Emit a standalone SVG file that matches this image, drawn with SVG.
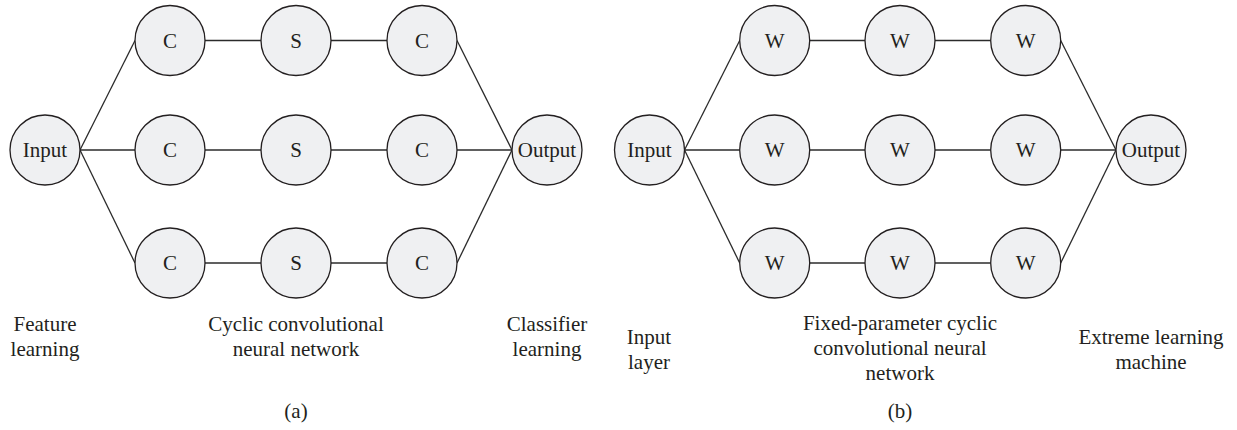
<svg xmlns="http://www.w3.org/2000/svg" width="1237" height="430" viewBox="0 0 1237 430">
  <style>
    .node circle { fill: #eff0f2; stroke: #231f20; stroke-width: 1.3; }
    .node text, .label { font-family: "Liberation Serif", "Times New Roman", serif; font-size: 21px; fill: #231f20; text-anchor: middle; }
    .node text { dominant-baseline: central; }
    .links line { stroke: #2b2b2b; stroke-width: 1.3; }
  </style>
  <rect width="1237" height="430" fill="#ffffff"/>

  <!-- (a) cyclic convolutional neural network -->
  <g class="links" id="links-a">
    <line x1="80" y1="150" x2="135" y2="40.5"/>
    <line x1="80" y1="150" x2="135" y2="150"/>
    <line x1="80" y1="150" x2="135" y2="263"/>
    <line x1="205" y1="40.5" x2="261" y2="40.5"/>
    <line x1="331" y1="40.5" x2="387" y2="40.5"/>
    <line x1="205" y1="150" x2="261" y2="150"/>
    <line x1="331" y1="150" x2="387" y2="150"/>
    <line x1="205" y1="263" x2="261" y2="263"/>
    <line x1="331" y1="263" x2="387" y2="263"/>
    <line x1="457" y1="40.5" x2="512" y2="150"/>
    <line x1="457" y1="150" x2="512" y2="150"/>
    <line x1="457" y1="263" x2="512" y2="150"/>
  </g>

  <g class="node" id="a-input"><circle cx="45" cy="150" r="35"/><text x="45" y="150">Input</text></g>
  <g class="node" id="a-c11"><circle cx="170" cy="40.5" r="35"/><text x="170" y="40.5">C</text></g>
  <g class="node" id="a-s12"><circle cx="296" cy="40.5" r="35"/><text x="296" y="40.5">S</text></g>
  <g class="node" id="a-c13"><circle cx="422" cy="40.5" r="35"/><text x="422" y="40.5">C</text></g>
  <g class="node" id="a-c21"><circle cx="170" cy="150" r="35"/><text x="170" y="150">C</text></g>
  <g class="node" id="a-s22"><circle cx="296" cy="150" r="35"/><text x="296" y="150">S</text></g>
  <g class="node" id="a-c23"><circle cx="422" cy="150" r="35"/><text x="422" y="150">C</text></g>
  <g class="node" id="a-c31"><circle cx="170" cy="263" r="35"/><text x="170" y="263">C</text></g>
  <g class="node" id="a-s32"><circle cx="296" cy="263" r="35"/><text x="296" y="263">S</text></g>
  <g class="node" id="a-c33"><circle cx="422" cy="263" r="35"/><text x="422" y="263">C</text></g>
  <g class="node" id="a-output"><circle cx="547" cy="150" r="35"/><text x="547" y="150">Output</text></g>

  <g id="labels-a">
    <text class="label" x="45" y="331">Feature</text>
    <text class="label" x="45" y="356">learning</text>
    <text class="label" x="296" y="331">Cyclic convolutional</text>
    <text class="label" x="296" y="356">neural network</text>
    <text class="label" x="547" y="331">Classifier</text>
    <text class="label" x="547" y="356">learning</text>
    <text class="label" x="296" y="418">(a)</text>
  </g>

  <!-- (b) fixed-parameter network with extreme learning machine -->
  <g class="links" id="links-b">
    <line x1="684.5" y1="150" x2="739.7" y2="40.5"/>
    <line x1="684.5" y1="150" x2="739.7" y2="150"/>
    <line x1="684.5" y1="150" x2="739.7" y2="263"/>
    <line x1="809.7" y1="40.5" x2="865" y2="40.5"/>
    <line x1="935" y1="40.5" x2="990.7" y2="40.5"/>
    <line x1="809.7" y1="150" x2="865" y2="150"/>
    <line x1="935" y1="150" x2="990.7" y2="150"/>
    <line x1="809.7" y1="263" x2="865" y2="263"/>
    <line x1="935" y1="263" x2="990.7" y2="263"/>
    <line x1="1060.7" y1="40.5" x2="1116" y2="150"/>
    <line x1="1060.7" y1="150" x2="1116" y2="150"/>
    <line x1="1060.7" y1="263" x2="1116" y2="150"/>
  </g>

  <g class="node" id="b-input"><circle cx="649.5" cy="150" r="35"/><text x="649.5" y="150">Input</text></g>
  <g class="node" id="b-w11"><circle cx="774.7" cy="40.5" r="35"/><text x="774.7" y="40.5">W</text></g>
  <g class="node" id="b-w12"><circle cx="900" cy="40.5" r="35"/><text x="900" y="40.5">W</text></g>
  <g class="node" id="b-w13"><circle cx="1025.7" cy="40.5" r="35"/><text x="1025.7" y="40.5">W</text></g>
  <g class="node" id="b-w21"><circle cx="774.7" cy="150" r="35"/><text x="774.7" y="150">W</text></g>
  <g class="node" id="b-w22"><circle cx="900" cy="150" r="35"/><text x="900" y="150">W</text></g>
  <g class="node" id="b-w23"><circle cx="1025.7" cy="150" r="35"/><text x="1025.7" y="150">W</text></g>
  <g class="node" id="b-w31"><circle cx="774.7" cy="263" r="35"/><text x="774.7" y="263">W</text></g>
  <g class="node" id="b-w32"><circle cx="900" cy="263" r="35"/><text x="900" y="263">W</text></g>
  <g class="node" id="b-w33"><circle cx="1025.7" cy="263" r="35"/><text x="1025.7" y="263">W</text></g>
  <g class="node" id="b-output"><circle cx="1151" cy="150" r="35"/><text x="1151" y="150">Output</text></g>

  <g id="labels-b">
    <text class="label" x="649" y="344">Input</text>
    <text class="label" x="649" y="369">layer</text>
    <text class="label" x="900" y="330">Fixed-parameter cyclic</text>
    <text class="label" x="900" y="355">convolutional neural</text>
    <text class="label" x="900" y="380">network</text>
    <text class="label" x="1151" y="344">Extreme learning</text>
    <text class="label" x="1151" y="369">machine</text>
    <text class="label" x="900" y="418">(b)</text>
  </g>
</svg>
